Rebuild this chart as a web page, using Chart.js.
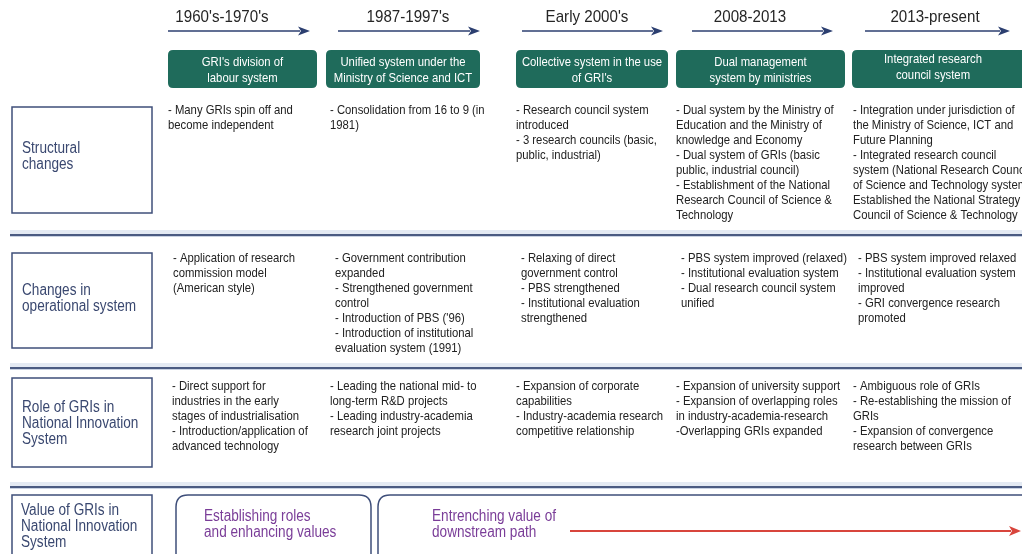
<!DOCTYPE html>
<html>
<head>
<meta charset="utf-8">
<script src="https://cdn.jsdelivr.net/npm/chart.js@4/dist/chart.umd.min.js"></script>
<style>
html,body{margin:0;padding:0;background:#fff;}
#wrap{width:1022px;height:554px;position:relative;}
</style>
</head>
<body>
<div id="wrap"><canvas id="c" width="1022" height="554"></canvas></div>
<script>
// ---- DATA ----
const periods = ["1960's-1970's", "1987-1997's", "Early 2000's", "2008-2013", "2013-present"];
const systems = [
  ["GRI's division of", "labour system"],
  ["Unified system under the", "Ministry of Science and ICT"],
  ["Collective system in the use", "of GRI's"],
  ["Dual management", "system by ministries"],
  ["Integrated research", "council system"]
];
const rowLabels = [
  ["Structural", "changes"],
  ["Changes in", "operational system"],
  ["Role of GRIs in", "National Innovation", "System"]
];
const structuralChanges = [
  ["- Many GRIs spin off and", "become independent"],
  ["- Consolidation from 16 to 9 (in", "1981)"],
  ["- Research council system", "introduced", "- 3 research councils (basic,", "public, industrial)"],
  ["- Dual system by the Ministry of", "Education and the Ministry of", "knowledge and Economy", "- Dual system of GRIs (basic", "public, industrial council)", "- Establishment of the National", "Research Council of Science &", "Technology"],
  ["- Integration under jurisdiction of", "the Ministry of Science, ICT and", "Future Planning", "- Integrated research council", "system (National Research Council", "of Science and Technology system)", "Established the National Strategy", "Council of Science & Technology"]
];
const operationalChanges = [
  ["- Application of research", "commission model", "(American style)"],
  ["- Government contribution", "expanded", "- Strengthened government", "control", "- Introduction of PBS ('96)", "- Introduction of institutional", "evaluation system (1991)"],
  ["- Relaxing of direct", "government control", "- PBS strengthened", "- Institutional evaluation", "strengthened"],
  ["- PBS system improved (relaxed)", "- Institutional evaluation system", "- Dual research council system", "unified"],
  ["- PBS system improved relaxed", "- Institutional evaluation system", "improved", "- GRI convergence research", "promoted"]
];
const griRoles = [
  ["- Direct support for", "industries in the early", "stages of industrialisation", "- Introduction/application of", "advanced technology"],
  ["- Leading the national mid- to", "long-term R&D projects", "- Leading industry-academia", "research joint projects"],
  ["- Expansion of corporate", "capabilities", "- Industry-academia research", "competitive relationship"],
  ["- Expansion of university support", "- Expansion of overlapping roles", "in industry-academia-research", "-Overlapping GRIs expanded"],
  ["- Ambiguous role of GRIs", "- Re-establishing the mission of", "GRIs", "- Expansion of convergence", "research between GRIs"]
];
const valueLabel = ["Value of GRIs in", "National Innovation", "System"];
const valuePhases = [
  ["Establishing roles", "and enhancing values"],
  ["Entrenching value of", "downstream path"]
];

// ---- LAYOUT / STYLE ----
const FONT = "'Liberation Sans','Arial',sans-serif";
const NARROW = 0.87;
const colLeft  = [168, 326, 516, 676, 852];
const colRight = [317, 480, 668, 845, 1030];
const arrowL = [168, 338, 522, 692, 865];
const arrowR = [310, 480, 663, 833, 1010];
const headX  = [222, 408, 587, 750, 935];
const textX  = [168, 330, 516, 676, 853];
const rows = [
  {top: 110, box: [12, 107, 152, 213], labelY: 149, indent: 0, sep: 235},
  {top: 258, box: [12, 253, 152, 348], labelY: 291, indent: 5, sep: 368},
  {top: 386, box: [12, 378, 152, 467], labelY: 408, indent: 0, sep: 487}
];
const NAVY = '#3f4f7a';

function txt(ctx, s, x, y, size, align, sx) {
  sx = sx || NARROW;
  ctx.save();
  ctx.font = size + 'px ' + FONT;
  ctx.textAlign = align;
  ctx.textBaseline = 'middle';
  ctx.translate(x, y);
  ctx.scale(sx, 1);
  ctx.fillText(s, 0, 0);
  ctx.restore();
}

function roundRect(ctx, x, y, w, h, r) {
  ctx.beginPath();
  ctx.moveTo(x + r, y);
  ctx.lineTo(x + w - r, y);
  ctx.quadraticCurveTo(x + w, y, x + w, y + r);
  ctx.lineTo(x + w, y + h - r);
  ctx.quadraticCurveTo(x + w, y + h, x + w - r, y + h);
  ctx.lineTo(x + r, y + h);
  ctx.quadraticCurveTo(x, y + h, x, y + h - r);
  ctx.lineTo(x, y + r);
  ctx.quadraticCurveTo(x, y, x + r, y);
  ctx.closePath();
}

function arrow(ctx, X, Y, x1, x2, y, color, lw, hl, hw) {
  const a = X(x1), b = X(x2), yy = Y(y);
  ctx.strokeStyle = color; ctx.fillStyle = color; ctx.lineWidth = lw;
  ctx.beginPath(); ctx.moveTo(a, yy); ctx.lineTo(b - hl + 2, yy); ctx.stroke();
  ctx.beginPath(); ctx.moveTo(b, yy); ctx.lineTo(b - hl, yy - hw); ctx.lineTo(b - hl + 3, yy); ctx.lineTo(b - hl, yy + hw); ctx.closePath(); ctx.fill();
}

const diagram = {
  id: 'diagram',
  afterDraw(chart) {
    const ctx = chart.ctx;
    const xs = chart.scales.x, ys = chart.scales.y;
    const X = v => xs.getPixelForValue(v);
    const Y = v => ys.getPixelForValue(v);
    ctx.save();

    // period headers + arrows
    periods.forEach((p, i) => {
      ctx.fillStyle = '#262626';
      txt(ctx, p, X(headX[i]), Y(17), 17, 'center', 0.89);
      arrow(ctx, X, Y, arrowL[i], arrowR[i], 31, '#2c3f70', 1.5, 12, 4.5);
    });

    // green system boxes
    systems.forEach((s, i) => {
      const l = X(colLeft[i]), r = X(colRight[i]);
      ctx.fillStyle = '#1f6b5b';
      roundRect(ctx, l, Y(50), r - l, Y(88) - Y(50), 5);
      ctx.fill();
      ctx.fillStyle = '#ffffff';
      const cx = (l + r) / 2 - (i === 4 ? 8 : 0);
      const y0 = i === 4 ? 59 : 62;
      s.forEach((line, k) => txt(ctx, line, cx, Y(y0 + k * 16), 13, 'center'));
    });

    // rows
    const tables = [structuralChanges, operationalChanges, griRoles];
    rows.forEach((row, ri) => {
      const [bx1, by1, bx2, by2] = row.box;
      ctx.strokeStyle = NAVY; ctx.lineWidth = 1.5;
      ctx.strokeRect(X(bx1), Y(by1), X(bx2) - X(bx1), Y(by2) - Y(by1));
      ctx.fillStyle = '#3a4870';
      rowLabels[ri].forEach((line, k) => txt(ctx, line, X(22), Y(row.labelY + k * 16), 16, 'left', 0.85));

      ctx.fillStyle = '#222222';
      tables[ri].forEach((cell, ci) => {
        const tx = textX[ci] + (ci === 0 && ri === 2 ? 4 : 0) + row.indent;
        cell.forEach((line, k) => txt(ctx, line, X(tx), Y(row.top + k * 15), 13, 'left'));
      });

      // separator
      ctx.fillStyle = '#e4eaf3';
      ctx.fillRect(X(10), Y(row.sep - 5), X(1022) - X(10), 4);
      ctx.fillStyle = '#4b5b82';
      ctx.fillRect(X(10), Y(row.sep - 1), X(1022) - X(10), 2);
      ctx.fillStyle = '#c9d2e2';
      ctx.fillRect(X(10), Y(row.sep + 1), X(1022) - X(10), 1);
    });

    // value row
    ctx.strokeStyle = NAVY; ctx.lineWidth = 1.5;
    ctx.strokeRect(X(12), Y(495), X(152) - X(12), Y(570) - Y(495));
    ctx.fillStyle = '#3a4870';
    valueLabel.forEach((line, k) => txt(ctx, line, X(21), Y(511 + k * 16), 16, 'left', 0.85));

    const phaseBox = [[176, 371], [378, 1040]];
    const phaseText = [204, 432];
    valuePhases.forEach((ph, i) => {
      ctx.strokeStyle = NAVY; ctx.lineWidth = 1.5;
      roundRect(ctx, X(phaseBox[i][0]), Y(495), X(phaseBox[i][1]) - X(phaseBox[i][0]), Y(575) - Y(495), 12);
      ctx.stroke();
      ctx.fillStyle = '#7a3d98';
      ph.forEach((line, k) => txt(ctx, line, X(phaseText[i]), Y(517 + k * 16), 16, 'left', 0.85));
    });
    arrow(ctx, X, Y, 570, 1021, 531, '#d8453c', 1.8, 12, 5);

    ctx.restore();
  }
};

new Chart(document.getElementById('c'), {
  type: 'scatter',
  data: { datasets: [{ data: [], pointRadius: 0 }] },
  options: {
    responsive: false,
    animation: false,
    layout: { padding: 0 },
    plugins: { legend: { display: false }, tooltip: { enabled: false } },
    scales: {
      x: { type: 'linear', min: 0, max: 1022, display: false },
      y: { type: 'linear', min: 0, max: 554, reverse: true, display: false }
    }
  },
  plugins: [diagram]
});
</script>
</body>
</html>
